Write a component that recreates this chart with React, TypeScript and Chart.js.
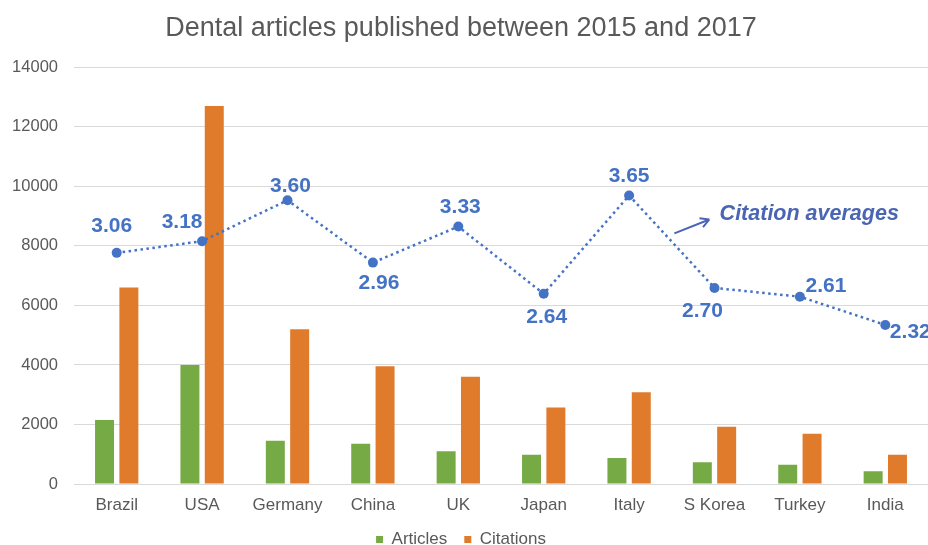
import React, { useEffect, useRef } from 'react';
import { Chart, registerables } from 'chart.js';

Chart.register(...registerables);

const countries = ['Brazil', 'USA', 'Germany', 'China', 'UK', 'Japan', 'Italy', 'S Korea', 'Turkey', 'India'];
const articles = [2150, 4000, 1450, 1350, 1100, 980, 870, 730, 650, 430];
const citations = [6600, 12700, 5200, 3960, 3600, 2570, 3080, 1920, 1690, 980];
const citationAverages = [3.06, 3.18, 3.6, 2.96, 3.33, 2.64, 3.65, 2.7, 2.61, 2.32];
const yTickValues = [0, 2000, 4000, 6000, 8000, 10000, 12000, 14000];

const TITLE = 'Dental articles published between 2015 and 2017';
const NOTE = 'Citation averages';

const FONT = '"Liberation Sans", Arial, Helvetica, sans-serif';
const GREY = '#595959';
const BLUE = '#4472C4';
const NOTE_BLUE = '#4A65B4';

// nudges (px) that put each average label where the reference has it
const labelNudges: [number, number][] = [
  [-5, -27], [-20, -19], [3, -14], [6, 21], [2, -19],
  [3, 23], [0, -19], [-12, 23], [26, -10], [25, 7],
];

// draws the value labels of the averages line plus the arrow note
const averagesOverlay = {
  id: 'averagesOverlay',
  afterDatasetsDraw(chart: Chart) {
    const { ctx } = chart;
    const meta = chart.getDatasetMeta(2);
    ctx.save();
    ctx.fillStyle = BLUE;
    ctx.font = `bold 21px ${FONT}`;
    ctx.textAlign = 'center';
    ctx.textBaseline = 'middle';
    meta.data.forEach((pt, i) => {
      const [dx, dy] = labelNudges[i];
      ctx.fillText(citationAverages[i].toFixed(2), pt.x + dx, pt.y + dy);
    });

    // note + arrow, placed in data space (between Italy and S Korea)
    const xs = chart.scales.x;
    const ys = chart.scales.y;
    const ax0 = xs.getPixelForValue(6.53);
    const ay0 = ys.getPixelForValue(8420);
    const ax1 = xs.getPixelForValue(6.94);
    const ay1 = ys.getPixelForValue(8890);
    const ang = Math.atan2(ay1 - ay0, ax1 - ax0);
    ctx.strokeStyle = NOTE_BLUE;
    ctx.lineWidth = 2;
    ctx.beginPath();
    ctx.moveTo(ax0, ay0);
    ctx.lineTo(ax1, ay1);
    for (const s of [-1, 1]) {
      ctx.moveTo(ax1, ay1);
      ctx.lineTo(ax1 - 10 * Math.cos(ang + s * 0.5), ay1 - 10 * Math.sin(ang + s * 0.5));
    }
    ctx.stroke();
    ctx.fillStyle = NOTE_BLUE;
    ctx.font = `italic bold 21.5px ${FONT}`;
    ctx.textAlign = 'left';
    ctx.fillText(NOTE, xs.getPixelForValue(7.06), ys.getPixelForValue(9060));
    ctx.restore();
  },
};

export default function App() {
  const canvasRef = useRef<HTMLCanvasElement | null>(null);
  const chartRef = useRef<Chart | null>(null);

  useEffect(() => {
    document.body.style.margin = '0';
    document.body.style.overflow = 'hidden';
    if (!canvasRef.current) return;
    if (chartRef.current) chartRef.current.destroy();

    chartRef.current = new Chart(canvasRef.current, {
      type: 'bar',
      data: {
        labels: countries,
        datasets: [
          {
            label: 'Articles',
            data: articles,
            backgroundColor: '#76AA45',
            categoryPercentage: 0.57,
            barPercentage: 0.78,
            order: 1,
          },
          {
            label: 'Citations',
            data: citations,
            backgroundColor: '#E07B2C',
            categoryPercentage: 0.57,
            barPercentage: 0.78,
            order: 1,
          },
          {
            type: 'line',
            label: 'Citation averages',
            data: citationAverages,
            yAxisID: 'y2',
            borderColor: BLUE,
            borderWidth: 2.5,
            borderDash: [2.5, 3.5],
            pointRadius: 5,
            pointBackgroundColor: BLUE,
            pointBorderWidth: 0,
            tension: 0,
            order: 0,
          } as any,
        ],
      },
      options: {
        animation: false,
        responsive: true,
        maintainAspectRatio: false,
        events: [],
        layout: { autoPadding: false, padding: { top: 0, left: -10, right: -4, bottom: -13 } },
        plugins: {
          title: {
            display: true,
            text: TITLE,
            color: GREY,
            font: { family: FONT, size: 27, weight: 'normal' },
            padding: { top: 12, bottom: 23 },
          },
          legend: {
            position: 'bottom',
            labels: {
              color: GREY,
              font: { family: FONT, size: 17 },
              boxWidth: 7,
              boxHeight: 7,
              padding: 17,
              filter: (item) => item.datasetIndex !== 2,
            },
          },
          tooltip: { enabled: false },
        },
        scales: {
          x: {
            offset: true,
            grid: { display: false, drawTicks: false },
            border: { display: false },
            ticks: { color: GREY, font: { family: FONT, size: 17 }, padding: 11 },
            afterFit: (scale) => {
              scale.height = 30;
              scale.paddingLeft = 0;
              scale.paddingRight = 0;
            },
          },
          y: {
            min: 0,
            max: 14000,
            afterBuildTicks: (scale) => {
              scale.ticks = yTickValues.map((v) => ({ value: v }));
            },
            afterFit: (scale) => {
              scale.width = 84;
            },
            grid: { color: '#D9D9D9', lineWidth: 1, drawTicks: false },
            border: { display: false },
            ticks: {
              color: GREY,
              font: { family: FONT, size: 16.5 },
              padding: 16,
              callback: (v) => String(v),
            },
          },
          // hidden scale for the averages line, fitted so it sits where the reference puts it
          y2: { type: 'linear', display: false, min: 0.686, max: 4.965 },
        },
      },
      plugins: [averagesOverlay],
    });

    return () => {
      if (chartRef.current) {
        chartRef.current.destroy();
        chartRef.current = null;
      }
    };
  }, []);

  return (
    <div style={{ width: 928, height: 545, position: 'relative' }}>
      <canvas ref={canvasRef} />
    </div>
  );
}
